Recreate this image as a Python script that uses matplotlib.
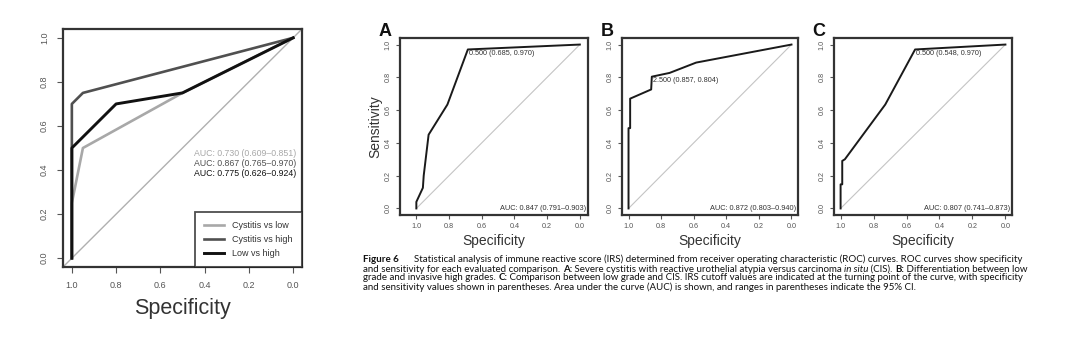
import matplotlib
matplotlib.use('Agg')
import matplotlib.pyplot as plt

plt.rcParams['font.family'] = ['Liberation Sans', 'DejaVu Sans']

W, H = 1088, 340

# ---------------- data ----------------
# Left panel: three ROC curves (specificity, sensitivity)
cvl_spec = [1.0, 1.0, 0.95, 0.5, 0.0]
cvl_sens = [0.0, 0.25, 0.5, 0.75, 1.0]
cvh_spec = [1.0, 1.0, 0.95, 0.0]
cvh_sens = [0.0, 0.70, 0.75, 1.0]
lvh_spec = [1.0, 1.0, 0.80, 0.5, 0.0]
lvh_sens = [0.0, 0.50, 0.70, 0.75, 1.0]
left_labels = ["Cystitis vs low", "Cystitis vs high", "Low vs high"]
left_auc = ["AUC: 0.730 (0.609\u20130.851)",
            "AUC: 0.867 (0.765\u20130.970)",
            "AUC: 0.775 (0.626\u20130.924)"]

# Panel A
a_spec = [1.0, 1.0, 0.96, 0.955, 0.925, 0.81, 0.685, 0.0]
a_sens = [0.0, 0.04, 0.126, 0.20, 0.45, 0.634, 0.970, 1.0]
a_thr_xy = (0.685, 0.970)
a_thr = "0.500 (0.685, 0.970)"
a_auc = "AUC: 0.847 (0.791\u20130.903)"
# Panel B
b_spec = [1.0, 1.0, 0.99, 0.99, 0.861, 0.857, 0.748, 0.585, 0.0]
b_sens = [0.0, 0.49, 0.49, 0.67, 0.726, 0.804, 0.827, 0.89, 1.0]
b_thr_xy = (0.857, 0.804)
b_thr = "2.500 (0.857, 0.804)"
b_auc = "AUC: 0.872 (0.803\u20130.940)"
# Panel C
c_spec = [1.0, 1.0, 0.99, 0.99, 0.974, 0.729, 0.548, 0.0]
c_sens = [0.0, 0.147, 0.147, 0.29, 0.30, 0.634, 0.970, 1.0]
c_thr_xy = (0.548, 0.970)
c_thr = "0.500 (0.548, 0.970)"
c_auc = "AUC: 0.807 (0.741\u20130.873)"

ticks = [1.0, 0.8, 0.6, 0.4, 0.2, 0.0]
tick_labels = ["1.0", "0.8", "0.6", "0.4", "0.2", "0.0"]
yticks = [0.0, 0.2, 0.4, 0.6, 0.8, 1.0]
ytick_labels = ["0.0", "0.2", "0.4", "0.6", "0.8", "1.0"]

caption = [
    [("Figure 6", "b"), ("      Statistical analysis of immune reactive score (IRS) determined from receiver operating characteristic (ROC) curves. ROC curves show specificity", "")],
    [("and sensitivity for each evaluated comparison. ", ""), ("A:", "b"), (" Severe cystitis with reactive urothelial atypia versus carcinoma ", ""), ("in situ", "i"), (" (CIS). ", ""), ("B:", "b"), (" Differentiation between low", "")],
    [("grade and invasive high grades. ", ""), ("C:", "b"), (" Comparison between low grade and CIS. IRS cutoff values are indicated at the turning point of the curve, with specificity", "")],
    [("and sensitivity values shown in parentheses. Area under the curve (AUC) is shown, and ranges in parentheses indicate the 95% CI.", "")],
]

fig = plt.figure(figsize=(W / 100, H / 100), dpi=100)


def add_ax(l, t, r, b):
    return fig.add_axes([l / W, 1 - b / H, (r - l) / W, (b - t) / H])


def style(ax, xlim, ylim, fs, spine_lw, tlen, tpad):
    ax.set_xlim(*xlim)
    ax.set_ylim(*ylim)
    ax.set_xticks(ticks)
    ax.set_xticklabels(tick_labels)
    ax.set_yticks(yticks)
    ax.set_yticklabels(ytick_labels, rotation=90, va='center')
    for s in ax.spines.values():
        s.set_linewidth(spine_lw)
        s.set_color('#333333')
    ax.tick_params(direction='out', length=tlen, width=0.8, colors='#555555',
                   labelsize=fs, pad=tpad)


# ---------------- left panel ----------------
ax0 = add_ax(63, 29, 302, 267)
style(ax0, (1.04, -0.04), (-0.04, 1.04), 6.5, 1.6, 4, 6)
ax0.plot([1.04, -0.04], [-0.04, 1.04], color='#b0b0b0', lw=1.0)
c_light, c_mid, c_dark = '#a8a8a8', '#505050', '#111111'
ax0.plot(cvl_spec, cvl_sens, color=c_light, lw=1.9, label=left_labels[0])
ax0.plot(cvh_spec, cvh_sens, color=c_mid, lw=1.9, label=left_labels[1])
ax0.plot(lvh_spec, lvh_sens, color=c_dark, lw=2.1, label=left_labels[2])
for txt, col, yy in zip(left_auc, [c_light, c_mid, c_dark], [0.477, 0.43, 0.386]):
    ax0.text(-0.015, yy, txt, color=col, fontsize=6.3, ha='right', va='center')
leg = ax0.legend(loc='lower right', fontsize=6.5, frameon=True, fancybox=False,
                 borderaxespad=0, handlelength=2.2, labelspacing=0.55,
                 borderpad=1.0, handletextpad=0.9)
leg.get_frame().set_edgecolor('#222222')
leg.get_frame().set_linewidth(1.3)
for t in leg.get_texts():
    t.set_color('#333333')
ax0.set_xlabel("Specificity", fontsize=15.5, color='#333333', labelpad=6)

# ---------------- panels A-C ----------------
panels = [
    ((400, 38, 588, 215), (1.10, -0.05), a_spec, a_sens, a_thr_xy, a_thr, a_auc, 'A'),
    ((622, 38, 798, 215), (1.04, -0.04), b_spec, b_sens, b_thr_xy, b_thr, b_auc, 'B'),
    ((834, 38, 1012, 215), (1.04, -0.04), c_spec, c_sens, c_thr_xy, c_thr, c_auc, 'C'),
]
for i, (box, xl, sp, se, txy, thr, auc, letter) in enumerate(panels):
    ax = add_ax(*box)
    style(ax, xl, (-0.04, 1.04), 5.2, 1.6, 3, 3)
    ax.plot([1.0, 0.0], [0.0, 1.0], color='#c4c4c4', lw=0.8)
    ax.plot(sp, se, color='#1a1a1a', lw=1.4)
    ax.text(txy[0] - 0.005, txy[1] - 0.005, thr, fontsize=5.2, color='#333333',
            ha='left', va='top')
    ax.text(xl[1] + 0.01, 0.0, auc, fontsize=5.3, color='#333333',
            ha='right', va='center')
    ax.set_xlabel("Specificity", fontsize=10, color='#333333', labelpad=3)
    if i == 0:
        ax.set_ylabel("Sensitivity", fontsize=10, color='#333333', labelpad=2)
    fig.text((box[0] - 15) / W, 1 - 32 / H, letter, fontsize=13, fontweight='bold',
             color='#111111', ha='center', va='center')

# ---------------- caption ----------------
renderer = fig.canvas.get_renderer()
cap_font = ['Lato', 'DejaVu Sans']


def seg_width(segs, size):
    w = 0
    for txt, st in segs:
        t = fig.text(0, 0, txt, fontsize=size, family=cap_font,
                     fontweight='bold' if 'b' in st else 'normal',
                     fontstyle='italic' if 'i' in st else 'normal')
        w += t.get_window_extent(renderer=renderer).width
        t.remove()
    return w


target = 1028 - 363
base = 6.0
size = base * target / seg_width(caption[0], base)

for line, yb in zip(caption, [262.5, 271.5, 280.5, 289.5]):
    x = 363
    for txt, st in line:
        t = fig.text(x / W, 1 - yb / H, txt, fontsize=size, family=cap_font,
                     fontweight='bold' if 'b' in st else 'normal',
                     fontstyle='italic' if 'i' in st else 'normal',
                     color='#111111', ha='left', va='baseline')
        x += t.get_window_extent(renderer=renderer).width

fig.savefig('out.png', dpi=100)
